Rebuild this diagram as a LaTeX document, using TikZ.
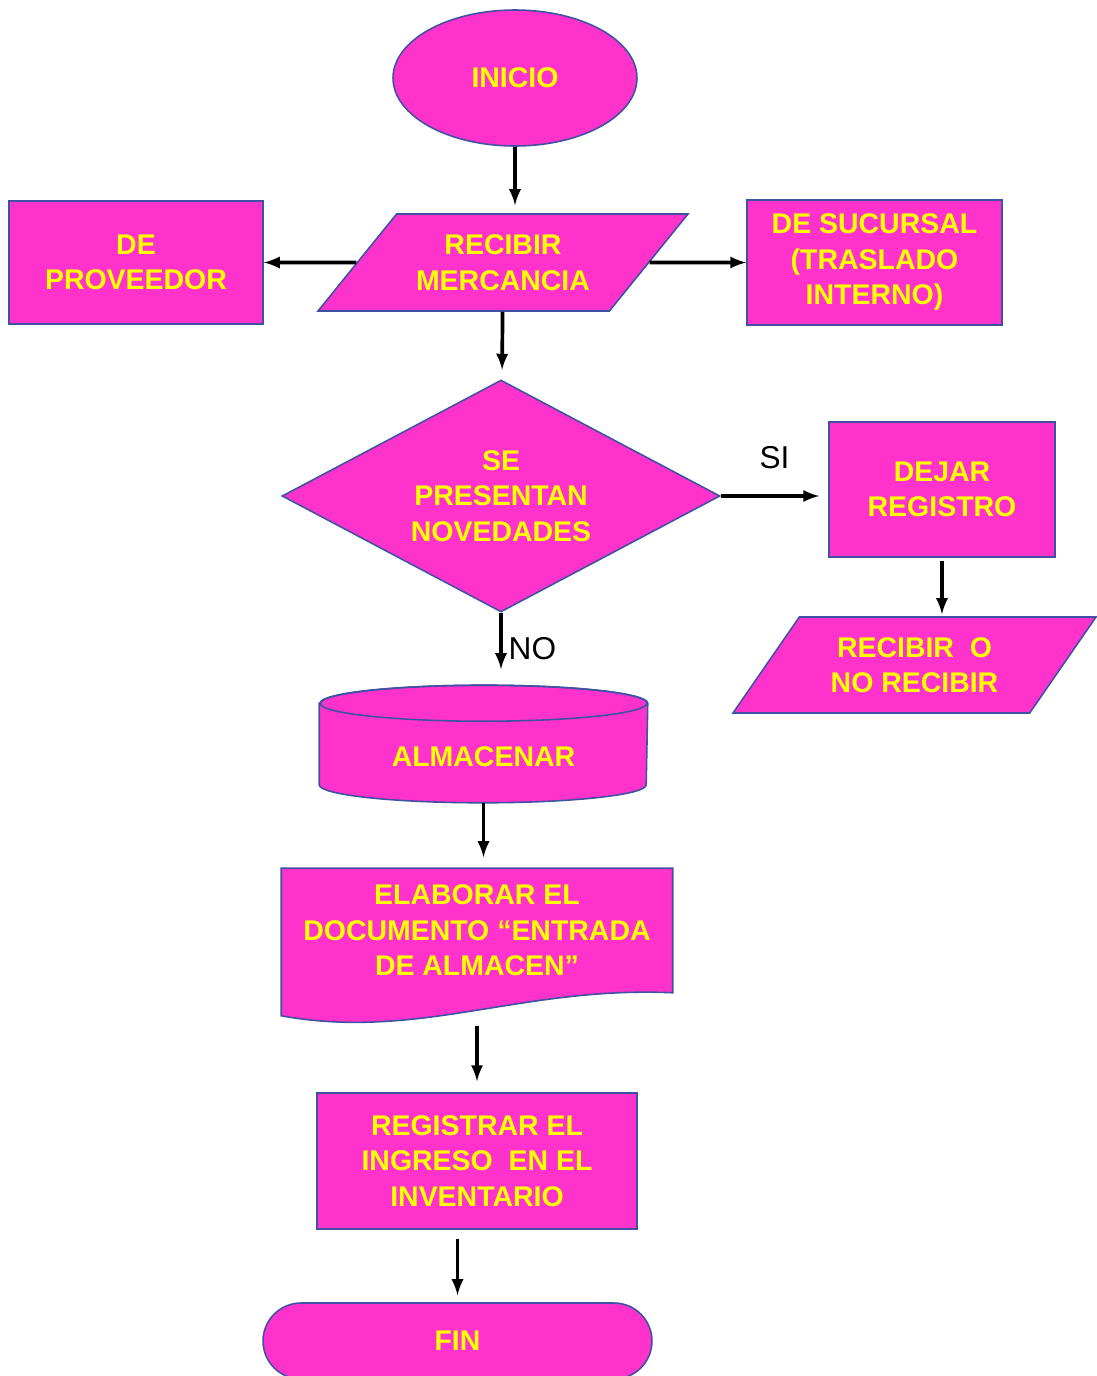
\documentclass[tikz,border=0pt]{standalone}
\usepackage{fontspec}
\setmainfont{Liberation Sans}
\usetikzlibrary{shapes.geometric,shapes.misc,calc,backgrounds}
\definecolor{rosa}{HTML}{FF33CC}
\definecolor{borde}{HTML}{3F51A3}
\definecolor{amarillo}{HTML}{FFFF00}
\begin{document}
\begin{tikzpicture}[
      x=0.02cm, y=0.02cm,
      caja/.style={draw=borde, fill=rosa, line width=0.9pt, text=amarillo, align=center, inner sep=0pt,
        font=\bfseries\fontsize{16.2}{20.2}\selectfont},
      solotexto/.style={caja, draw=none, fill=none},
      flecha/.style={-latex, line width=2.1pt, shorten >=0.16cm},
      etiqueta/.style={font=\fontsize{18}{20}\selectfont, text=black}
    ]
      \useasboundingbox (0,0) rectangle (1096,-1376);
      \node[caja, ellipse, minimum width=4.88cm, minimum height=2.72cm] (inicio) at (515,-78) {INICIO};
      \node[caja, trapezium, trapezium left angle=35.3, trapezium right angle=144.7, trapezium stretches body=true,
        minimum width=7.4cm, minimum height=1.94cm] (recibir) at (503,-262.5) {RECIBIR\\ MERCANCIA};
      \node[caja, minimum width=5.08cm, minimum height=2.46cm] (proveedor) at (136,-262.5) {DE\\ PROVEEDOR};
      \node[caja, minimum width=5.1cm, minimum height=2.5cm] (sucursal) at (874.5,-262.5) {DE SUCURSAL\\ (TRASLADO\\ INTERNO)};
      \node[caja, diamond, aspect=1.9, minimum width=8.76cm, minimum height=4.64cm] (novedades) at (501,-496) {SE\\ PRESENTAN\\ NOVEDADES};
      \node[caja, minimum width=4.52cm, minimum height=2.7cm] (dejar) at (942,-489.5) {DEJAR\\ REGISTRO};
      \node[caja, trapezium, trapezium left angle=40, trapezium right angle=140, trapezium stretches body=true,
        minimum width=7.26cm, minimum height=1.92cm] (recibirono) at (914.5,-665) {RECIBIR\ \ O\\ NO RECIBIR};
      \node[solotexto, minimum width=6.54cm, text height=1.615cm, text depth=0.705cm] (almacenar) at (483.5,-744) {ALMACENAR};
      \node[solotexto, minimum width=7.8cm, minimum height=2.46cm] (documento) at (477,-930.5) {ELABORAR EL\\ DOCUMENTO “ENTRADA\\ DE ALMACEN”};
      \node[caja, minimum width=6.4cm, minimum height=2.72cm] (registrar) at (477,-1161) {REGISTRAR EL\\ INGRESO\ \ EN EL\\ INVENTARIO};
      \node[caja, rounded rectangle, minimum width=7.78cm, minimum height=1.52cm] (fin) at (457.5,-1341) {FIN};
      % cilindro y documento detras del texto
      \begin{scope}[on background layer]
        \filldraw[draw=borde, fill=rosa, line width=0.9pt]
          ($(almacenar.north west)+(0,-18)$) -- ($(almacenar.south west)+(0,18)$)
          arc[start angle=180, end angle=360, x radius=3.27cm, y radius=0.36cm]
          -- ($(almacenar.north east)+(0,-18)$)
          arc[start angle=0, end angle=180, x radius=3.27cm, y radius=0.36cm] -- cycle;
        \draw[draw=borde, line width=0.9pt] ($(almacenar.north)+(0,-18)$) ellipse[x radius=3.27cm, y radius=0.36cm];
        \filldraw[draw=borde, fill=rosa, line width=0.9pt]
          (documento.north west) -- (documento.north east) -- (documento.south east)
          .. controls ($(documento.south east)+(-152,7)$) and ($(documento.south west)+(138,-48)$)
          .. ($(documento.south west)+(0,-23)$) -- cycle;
      \end{scope}
      \draw[flecha] (inicio) -- (inicio |- recibir.north);
      \draw[flecha, shorten >=0pt] (recibir) -- (proveedor);
      \draw[flecha, shorten >=0pt] (recibir) -- (sucursal);
      \draw[flecha, shorten >=0.2cm] (recibir) -- (novedades);
      \draw[flecha, shorten >=0.18cm] (novedades.east) -- node[etiqueta, above=0.4cm] {SI} (novedades.east -| dejar.west);
      \draw[flecha, shorten >=0.04cm, shorten <=0.06cm] (dejar.south) -- (dejar.south |- recibirono.north);
      \draw[flecha, shorten >=0.32cm] (novedades.south) -- node[etiqueta, right] {NO} (novedades.south |- almacenar.north);
      \draw[flecha, shorten >=0.22cm] (almacenar.south) -- (almacenar.south |- documento.north);
      \draw[flecha, shorten <=0.66cm, shorten >=0.22cm] (documento.south) -- (registrar.north);
      \draw[flecha, shorten <=0.18cm, shorten >=0.14cm] (fin |- registrar.south) -- (fin.north);
    \end{tikzpicture}
\end{document}
